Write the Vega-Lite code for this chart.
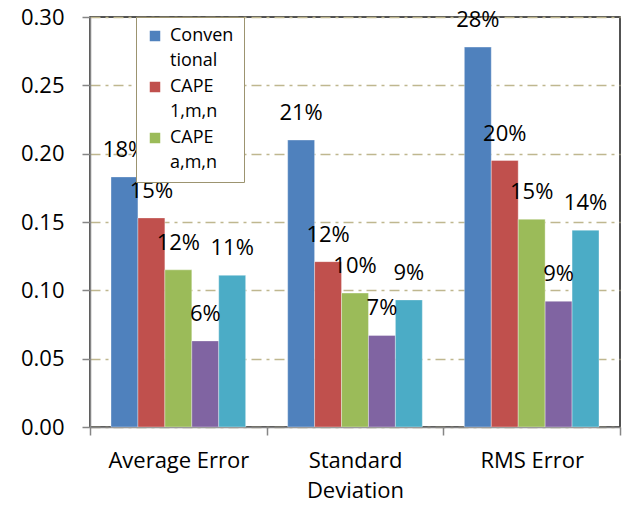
{
  "$schema": "https://vega.github.io/schema/vega-lite/v6.json",
  "width": 530,
  "height": 410,
  "autosize": {"type": "none"},
  "padding": {"left": 90, "top": 17, "right": 2, "bottom": 79},
  "config": {
    "view": {"stroke": "#1a1a1a", "strokeWidth": 1.5},
    "font": "Open Sans",
    "style": {"guide-label": {"lineHeight": 25}}
  },
  "data": {
    "values": [
      {"group": "Average Error", "series": "Conventional", "value": 0.183, "label": "18%"},
      {"group": "Average Error", "series": "CAPE 1,m,n", "value": 0.153, "label": "15%"},
      {"group": "Average Error", "series": "CAPE a,m,n", "value": 0.115, "label": "12%"},
      {"group": "Average Error", "series": "Series 4", "value": 0.063, "label": "6%"},
      {"group": "Average Error", "series": "Series 5", "value": 0.111, "label": "11%"},
      {"group": "Standard Deviation", "series": "Conventional", "value": 0.210, "label": "21%"},
      {"group": "Standard Deviation", "series": "CAPE 1,m,n", "value": 0.121, "label": "12%"},
      {"group": "Standard Deviation", "series": "CAPE a,m,n", "value": 0.098, "label": "10%"},
      {"group": "Standard Deviation", "series": "Series 4", "value": 0.067, "label": "7%"},
      {"group": "Standard Deviation", "series": "Series 5", "value": 0.093, "label": "9%"},
      {"group": "RMS Error", "series": "Conventional", "value": 0.278, "label": "28%"},
      {"group": "RMS Error", "series": "CAPE 1,m,n", "value": 0.195, "label": "20%"},
      {"group": "RMS Error", "series": "CAPE a,m,n", "value": 0.152, "label": "15%"},
      {"group": "RMS Error", "series": "Series 4", "value": 0.092, "label": "9%"},
      {"group": "RMS Error", "series": "Series 5", "value": 0.144, "label": "14%"}
    ]
  },
  "encoding": {
    "x": {
      "field": "group",
      "type": "nominal",
      "sort": ["Average Error", "Standard Deviation", "RMS Error"],
      "scale": {"paddingInner": 0, "paddingOuter": 0},
      "axis": {
        "title": null,
        "labelAngle": 0,
        "labelFontSize": 22,
        "labelColor": "#000000",
        "labelFont": "Open Sans",
        "labelBaseline": "top",
        "labelPadding": 15,
        "labelLineHeight": 30,
        "labelLimit": 300,
        "labelExpr": "datum.label == 'Standard Deviation' ? ['Standard', 'Deviation'] : datum.label",
        "tickBand": "extent",
        "tickSize": 8,
        "tickColor": "#868686",
        "tickWidth": 1.5,
        "domainColor": "#868686",
        "domainWidth": 1.5
      }
    },
    "xOffset": {
      "field": "series",
      "type": "nominal",
      "sort": ["Conventional", "CAPE 1,m,n", "CAPE a,m,n", "Series 4", "Series 5"],
      "scale": {"paddingInner": 0, "paddingOuter": 0.78}
    },
    "y": {
      "field": "value",
      "type": "quantitative",
      "scale": {"domain": [0, 0.3], "nice": false},
      "axis": {
        "title": null,
        "values": [0, 0.05, 0.1, 0.15, 0.2, 0.25, 0.3],
        "format": ".2f",
        "labelFontSize": 22,
        "labelColor": "#000000",
        "labelFont": "Open Sans",
        "labelPadding": 18,
        "tickSize": 8,
        "tickColor": "#868686",
        "tickWidth": 1.5,
        "domainColor": "#868686",
        "domainWidth": 1.5,
        "grid": true,
        "gridColor": "#bfb78f",
        "gridWidth": 1.6,
        "gridDash": [10, 5, 3, 5]
      }
    }
  },
  "layer": [
    {
      "mark": {"type": "bar", "stroke": "#ffffff", "strokeOpacity": 0.35, "strokeWidth": 1},
      "encoding": {
        "color": {
          "field": "series",
          "type": "nominal",
          "scale": {
            "domain": ["Conventional", "CAPE 1,m,n", "CAPE a,m,n", "Series 4", "Series 5"],
            "range": ["#4f81bd", "#c0504d", "#9bbb59", "#8064a2", "#4bacc6"]
          },
          "legend": {
            "values": ["Conventional", "CAPE 1,m,n", "CAPE a,m,n"],
            "orient": "none",
            "legendX": 46,
            "legendY": 0,
            "title": null,
            "fillColor": "#ffffff",
            "strokeColor": "#9c9470",
            "padding": 10,
            "symbolType": "square",
            "symbolSize": 110,
            "symbolStrokeWidth": 0,
            "labelFontSize": 18,
            "labelFont": "Open Sans",
            "labelColor": "#000000",
            "labelOffset": 6,
            "rowPadding": 8,
            "labelExpr": "datum.label == 'Conventional' ? ['Conven', 'tional'] : split(datum.label, ' ')",
            "labelLimit": 200,
            "encode": {
              "legend": {"update": {"height": {"value": 166}}}
            }
          }
        }
      }
    },
    {
      "mark": {"type": "text", "fontSize": 22, "font": "Open Sans", "color": "#000000", "baseline": "middle", "dy": -27},
      "encoding": {
        "text": {"field": "label"}
      }
    }
  ]
}
